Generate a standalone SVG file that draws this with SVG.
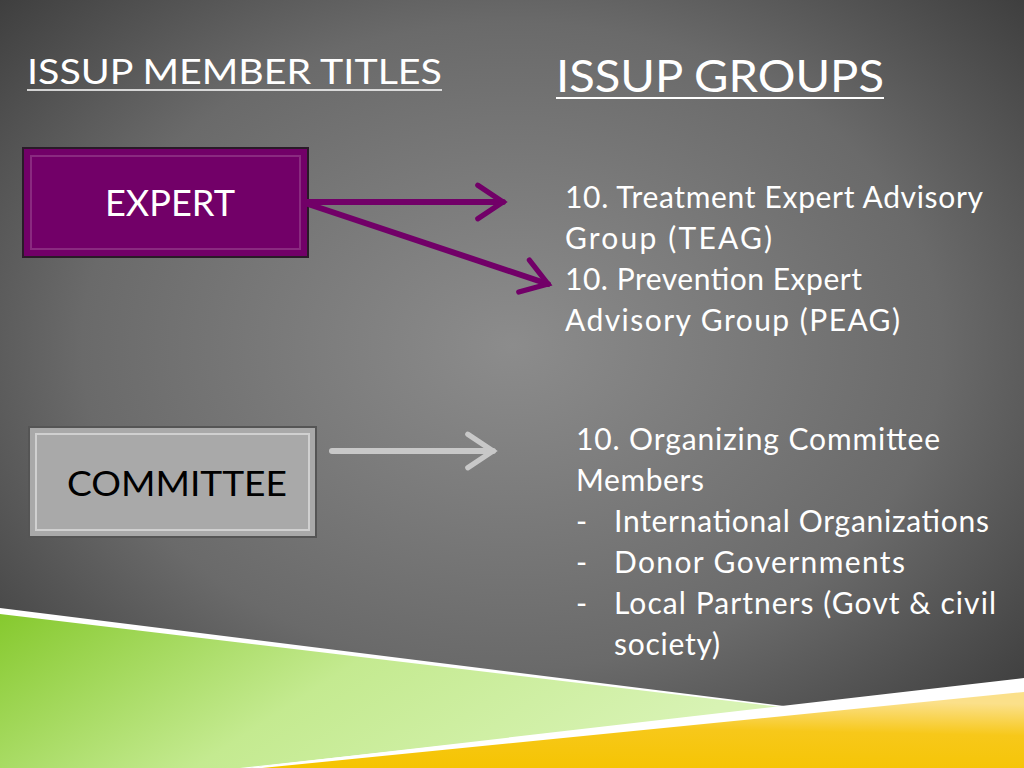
<svg xmlns="http://www.w3.org/2000/svg" width="1024" height="768" viewBox="0 0 1024 768">
<defs>
<radialGradient id="bg" cx="0.5" cy="0.45" r="0.7">
<stop offset="0" stop-color="#8c8c8c"/><stop offset="0.6" stop-color="#6a6a6a"/><stop offset="1" stop-color="#3a3a3a"/>
</radialGradient>
<linearGradient id="gr" x1="0" y1="0" x2="1" y2="0.3">
<stop offset="0" stop-color="#86c92e"/><stop offset="0.5" stop-color="#c4ea90"/><stop offset="1" stop-color="#d8f3b4"/>
</linearGradient>
<linearGradient id="yl" x1="0" y1="1" x2="0.2" y2="0">
<stop offset="0" stop-color="#f5c400"/><stop offset="0.6" stop-color="#f7c81a"/><stop offset="1" stop-color="#fbe08a"/>
</linearGradient>
<marker id="ap" viewBox="0 0 20 20" refX="16" refY="10" markerWidth="7" markerHeight="7" orient="auto" markerUnits="strokeWidth">
<path d="M4,2 L16,10 L4,18" fill="none" stroke="#720068" stroke-width="2.5" stroke-linecap="round"/>
</marker>
<marker id="ag" viewBox="0 0 20 20" refX="16" refY="10" markerWidth="7" markerHeight="7" orient="auto" markerUnits="strokeWidth">
<path d="M4,2 L16,10 L4,18" fill="none" stroke="#c8c8c8" stroke-width="2.5" stroke-linecap="round"/>
</marker>
</defs>
<style>
.t{font-family:"Gill Sans","Lato","Liberation Sans",sans-serif;fill:#fff}
.b{font-family:"Gill Sans","Lato","Liberation Sans",sans-serif}
</style>
<rect width="1024" height="768" fill="url(#bg)"/>
<polygon points="0,608 800,708 250,768 0,768" fill="#fff"/>
<polygon points="0,614 790,708 240,768 0,768" fill="url(#gr)"/>
<polygon points="245,768 1024,678 1024,768" fill="#fff"/>
<polygon points="262,768 1024,692 1024,768" fill="url(#yl)"/>
<text class="t" x="27" y="84" font-size="34" textLength="415" lengthAdjust="spacingAndGlyphs">ISSUP MEMBER TITLES</text>
<line x1="27" y1="90" x2="442" y2="90" stroke="#fff" stroke-width="1.5"/>
<text class="t" x="556" y="92" font-size="44" textLength="328" lengthAdjust="spacingAndGlyphs">ISSUP GROUPS</text>
<line x1="556" y1="98" x2="884" y2="98" stroke="#fff" stroke-width="2"/>
<g id="expert">
<rect x="23" y="148" width="285" height="109" fill="#720068" stroke="#2a1a28" stroke-width="2"/>
<rect x="31" y="156" width="269" height="93" fill="none" stroke="#8a2a80" stroke-width="2"/>
<text class="t" x="105" y="216" font-size="36" textLength="130" lengthAdjust="spacingAndGlyphs">EXPERT</text>
</g>
<g id="committee">
<rect x="29" y="427" width="287" height="110" fill="#a9a9a9" stroke="#555" stroke-width="2"/>
<rect x="36" y="434" width="273" height="96" fill="none" stroke="#d0d0d0" stroke-width="2"/>
<text class="b" x="67" y="496" font-size="34" fill="#000" textLength="220" lengthAdjust="spacingAndGlyphs">COMMITTEE</text>
</g>
<g id="connectors" fill="none" stroke-linecap="round">
<line x1="305" y1="202" x2="503" y2="202" stroke="#720068" stroke-width="6" marker-end="url(#ap)"/>
<line x1="305" y1="203" x2="548" y2="284" stroke="#720068" stroke-width="6" marker-end="url(#ap)"/>
<line x1="332" y1="451" x2="493" y2="451" stroke="#c8c8c8" stroke-width="6" marker-end="url(#ag)"/>
</g>
<g id="groups" class="t" font-size="30" lengthAdjust="spacingAndGlyphs">
<text x="565" y="208" textLength="418">10. Treatment Expert Advisory</text>
<text x="565" y="249" textLength="207">Group (TEAG)</text>
<text x="565" y="290" textLength="297">10. Prevention Expert</text>
<text x="565" y="331" textLength="335">Advisory Group (PEAG)</text>
</g>
<g id="committee-groups" class="t" font-size="30">
<text x="576" y="450" textLength="364">10. Organizing Committee</text>
<text x="576" y="491" textLength="128">Members</text>
<text x="576" y="532">-</text><text x="614" y="532" textLength="375">International Organizations</text>
<text x="576" y="573">-</text><text x="614" y="573" textLength="291">Donor Governments</text>
<text x="576" y="614">-</text><text x="614" y="614" textLength="382">Local Partners (Govt &amp; civil</text>
<text x="614" y="655" textLength="106">society)</text>
</g>
</svg>
